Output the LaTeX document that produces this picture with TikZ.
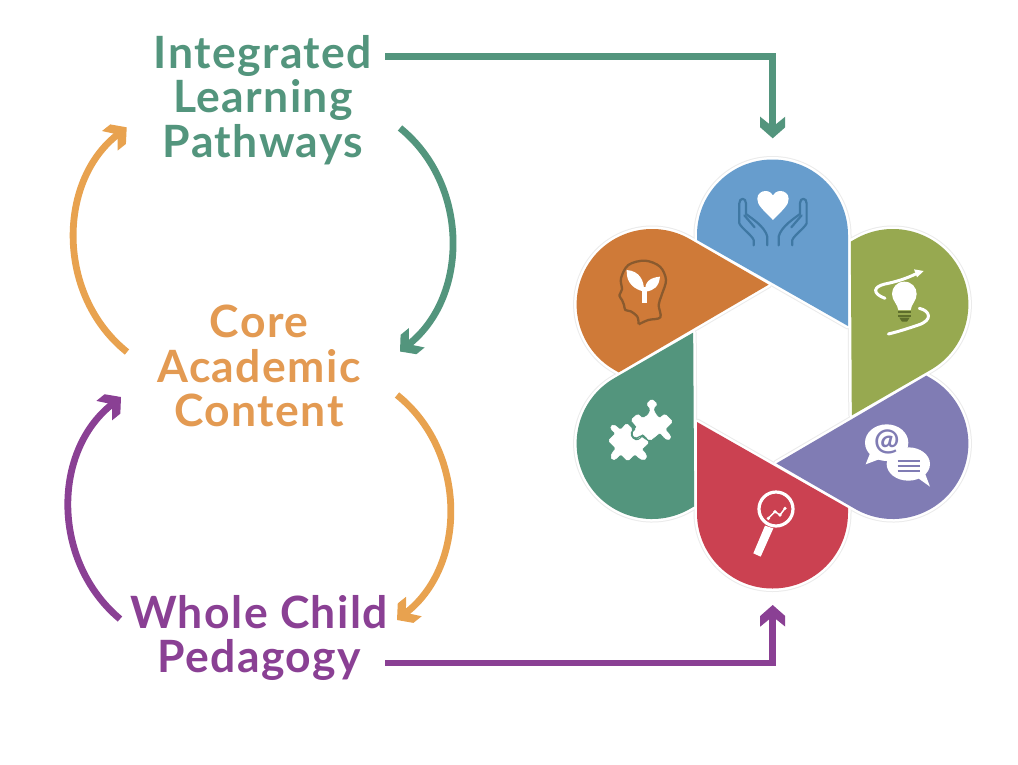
\documentclass[tikz,border=0pt]{standalone}
\usepackage{fontspec}
\setmainfont{Lato}[LetterSpace=3.2]
\pgfdeclarearrow{
  name=Chev,
  setup code={
    \pgfarrowssettipend{0pt}
    \pgfarrowssetlineend{-13pt}
    \pgfarrowssetvisualbackend{-13pt}
    \pgfarrowssetbackend{-21.6pt}
    \pgfarrowshullpoint{0pt}{0pt}
    \pgfarrowshullpoint{-21.6pt}{12.5pt}
    \pgfarrowshullpoint{-21.6pt}{-12.5pt}
  },
  drawing code={
    \pgfpathmoveto{\pgfqpoint{0pt}{0pt}}
    \pgfpathlineto{\pgfqpoint{-11pt}{12.5pt}}
    \pgfpathlineto{\pgfqpoint{-21.6pt}{12.5pt}}
    \pgfpathlineto{\pgfqpoint{-14.3pt}{3.5pt}}
    \pgfpathlineto{\pgfqpoint{-14.3pt}{-3.5pt}}
    \pgfpathlineto{\pgfqpoint{-21.6pt}{-12.5pt}}
    \pgfpathlineto{\pgfqpoint{-11pt}{-12.5pt}}
    \pgfpathclose
    \pgfusepathqfill
  }
}
\definecolor{cblue}{HTML}{679DCD}
\definecolor{cgreen}{HTML}{97A950}
\definecolor{cpurple}{HTML}{807CB4}
\definecolor{cred}{HTML}{CB4151}
\definecolor{cteal}{HTML}{53957D}
\definecolor{corange}{HTML}{CF7A38}
\definecolor{tteal}{HTML}{53957D}
\definecolor{torange}{HTML}{E39A52}
\definecolor{aorange}{HTML}{E8A24F}
\definecolor{tpurple}{HTML}{8A4094}
\definecolor{chand}{HTML}{3F78A3}
\definecolor{chead}{HTML}{8A5A2E}
\definecolor{cbulb}{HTML}{5E6E2C}
\tikzset{
  label text/.style={align=center,inner sep=0pt,font=\fontsize{44.5}{44.7}\selectfont\bfseries},
  conn/.style={line width=6.8pt,-Chev},
  hand/.style={draw=chand,line width=2.2pt,line cap=round,line join=round},
  wline/.style={draw=white,line cap=round,line join=round},
  jig/.style={fill=white,draw=white,line width=0.5pt,rounded corners=1.5pt},
}
\newcommand{\petalpath}[1]{%
  \begin{scope}[shift={(772.5,374)},rotate=#1,x=1pt,y=1pt]
  \path[petalstyle] (75.5,48) -- (75.5,139) arc (0:180:75.5) -- (-75.5,134) -- cycle;
  \end{scope}}
\begin{document}
\begin{tikzpicture}[x=1pt,y=-1pt]
\useasboundingbox (0,0) rectangle (1018,764);
\fill[white] (0,0) rectangle (1018,764);
% text
\node[label text,text=tteal] (ilp) at (263,100) {Integrated\\Learning\\Pathways};
\node[label text,text=torange] (cac) at (259,366) {Core\\Academic\\Content};
\node[label text,text=tpurple] (wcp) at (259,638) {Whole Child\\Pedagogy};
% connector ends
\coordinate (a1) at (385,56.7);
\coordinate (a1t) at (772.7,138.3);
\coordinate (a2) at (385,663);
\coordinate (a2t) at (772.7,605);
\coordinate (c1) at (400,128);
\coordinate (c1t) at (400,351.5);
\coordinate (c2) at (127,352);
\coordinate (c2t) at (126.7,127.3);
\coordinate (c3) at (397,395);
\coordinate (c3t) at (397,620);
\coordinate (c4) at (120,619);
\coordinate (c4t) at (121,397);
\draw[conn,tteal] (a1) -| (a1t);
\draw[conn,tpurple] (a2) -| (a2t);
\draw[conn,tteal] (c1) .. controls (469,184) and (469,295) .. (c1t);
\draw[conn,aorange] (c2) .. controls (57,296) and (57,183) .. (c2t);
\draw[conn,aorange] (c3) .. controls (467,451) and (467,564) .. (c3t);
\draw[conn,tpurple] (c4) .. controls (52,562) and (52,453) .. (c4t);
% petals
\tikzset{petalstyle/.style={draw=black!8,line width=7pt,line join=round}}
\foreach \r in {0,60,120,180,240,300}{\petalpath{\r}}
\tikzset{petalstyle/.style={draw=white,line width=5pt,line join=round}}
\foreach \r in {0,60,120,180,240,300}{\petalpath{\r}}
\foreach \r/\c in {0/cblue,-60/cgreen,-120/cpurple,180/cred,120/cteal,60/corange}{
  \tikzset{petalstyle/.style={fill=\c}}
  \petalpath{\r}
}
% hands and heart
\begin{scope}[shift={(560,140)},x=0.3333pt,y=-0.3333pt]
\fill[white] (639,240) .. controls (605,205) and (592,195) .. (592,176) .. controls (592,160) and (606,153) .. (617,153) .. controls (628,153) and (636,160) .. (639,166) .. controls (642,160) and (650,153) .. (661,153) .. controls (672,153) and (686,160) .. (686,176) .. controls (686,195) and (673,205) .. (639,240) -- cycle;
\path[hand] (581,316) -- (581,300) .. controls (575,285) and (545,265) .. (538,250) -- (538,190) .. controls (538,172) and (558,172) .. (558,190) -- (558,222) .. controls (575,235) and (615,260) .. (622,290) -- (622,316);
\path[hand] (553,226) -- (584,262);
\path[hand] (697,316) -- (697,300) .. controls (703,285) and (733,265) .. (740,250) -- (740,190) .. controls (740,172) and (720,172) .. (720,190) -- (720,222) .. controls (703,235) and (663,260) .. (656,290) -- (656,316);
\path[hand] (725,226) -- (694,262);
% head with sprout
\draw[chead,line width=2.3pt,line join=round] plot[smooth,tension=0.55] coordinates {(236,553) (232,530) (212,514) (196,510) (192,495) (186,480) (178,466) (186,448) (183,415) (205,375) (255,362) (300,380) (318,420) (305,465) (296,495) (301,532) (265,540) (236,553)};
\fill[white] (200,390) .. controls (238,393) and (253,420) .. (252,455) .. controls (225,448) and (198,432) .. (200,390) -- cycle;
\fill[white] (300,410) .. controls (270,413) and (253,425) .. (256,455) .. controls (282,452) and (297,440) .. (300,410) -- cycle;
\fill[white] (246,440) -- (260,440) -- (260,490) -- (246,490) -- cycle;
\end{scope}
% bulb
\begin{scope}[shift={(865,260)},x=0.3333pt,y=-0.3333pt]
\fill[white] (118,65) .. controls (96,65) and (81,82) .. (81,102) .. controls (81,122) and (98,132) .. (100,150) -- (137,150) .. controls (139,132) and (155,122) .. (155,102) .. controls (155,82) and (140,65) .. (118,65) -- cycle;
\draw[cbulb,line width=1.9pt] (100,157) -- (137,157) (100,167) -- (137,167);
\fill[cbulb] (103,173) -- (134,173) -- (126,185) -- (111,185) -- cycle;
\path[wline,line width=3pt] (60,115) .. controls (20,100) and (25,80) .. (60,72) .. controls (95,65) and (125,55) .. (152,42);
\fill[white] (147,28) -- (176,33) -- (156,52) -- cycle;
\path[wline,line width=3pt] (163,145) .. controls (195,152) and (205,180) .. (160,195) .. controls (130,205) and (100,215) .. (70,222);
\end{scope}
% puzzle
\begin{scope}[shift={(600,390)},x=0.3333pt,y=-0.3333pt]
\path[jig] (140,42) -- (155,27) -- (172,42) -- (160,55) -- (165,70) -- (178,85) -- (195,72) -- (218,95) -- (195,118) -- (210,135) -- (213,145) -- (203,150) -- (195,145) -- (180,128) -- (150,152) -- (128,133) -- (122,135) -- (105,143) -- (97,130) -- (103,118) -- (112,112) -- (93,90) -- (113,72) -- (128,85) -- (145,75) -- (152,58) -- cycle;
\path[jig] (25,152) -- (47,130) -- (33,118) -- (32,108) -- (42,104) -- (62,120) -- (80,100) -- (97,117) -- (90,130) -- (95,145) -- (110,150) -- (122,140) -- (147,157) -- (125,178) -- (138,192) -- (140,205) -- (130,210) -- (118,205) -- (105,192) -- (83,213) -- (62,192) -- (48,207) -- (38,210) -- (32,200) -- (37,188) -- (48,175) -- cycle;
\draw[cteal,line width=1.1pt,line join=round] (92,105) -- (104,118) .. controls (92,125) and (92,145) .. (108,149) .. controls (118,150) and (124,140) .. (128,135) -- (140,146);
\end{scope}
% chat bubbles
\begin{scope}[shift={(855,420)},x=0.3333pt,y=-0.3333pt]
\fill[white] (95,68) ellipse [x radius=65,y radius=55];
\fill[white] (45,100) -- (32,133) -- (72,118) -- cycle;
\fill[white] (160,132) ellipse [x radius=65,y radius=50];
\fill[white] (190,175) -- (225,200) -- (208,155) -- cycle;
\node[text=cpurple,inner sep=0pt,font=\fontsize{30}{30}\selectfont\bfseries] (at) at (95,66) {@};
\draw[cpurple,line width=2.1pt] (128,122) -- (195,122) (128,137) -- (195,137) (128,152) -- (195,152);
\end{scope}
% magnifier
\begin{scope}[shift={(740,485)},x=0.3333pt,y=-0.3333pt]
\draw[white,line width=3.2pt] (108,72) circle [radius=51];
\fill[white] (75,122) -- (100,130) -- (62,215) -- (40,205) -- cycle;
\draw[white,line width=1.5pt,line join=round] (85,100) -- (105,80) -- (120,90) -- (135,70);
\fill[white] (85,100) circle [radius=5.5] (105,80) circle [radius=5.5] (120,90) circle [radius=5.5] (135,70) circle [radius=5.5];
\end{scope}
\end{tikzpicture}
\end{document}
